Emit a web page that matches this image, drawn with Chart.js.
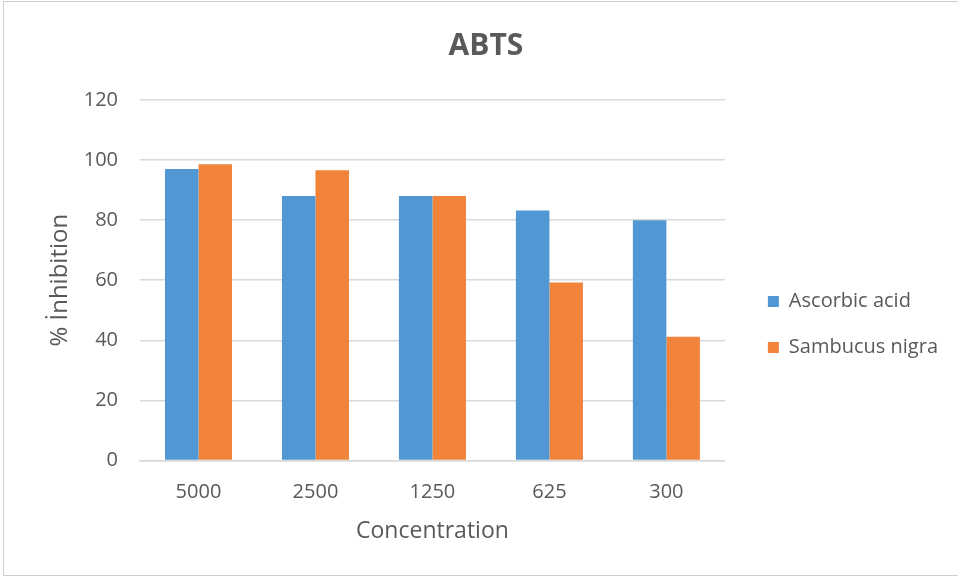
<!DOCTYPE html>
<html>
<head>
<meta charset="utf-8">
<script src="https://cdn.jsdelivr.net/npm/chart.js@4.4.1/dist/chart.umd.min.js"></script>
<style>
  html, body { margin: 0; padding: 0; background: #ffffff; }
  #frame {
    position: absolute; left: 3px; top: 1px;
    width: 962px; height: 575px;
    border: 1px solid #cfcfcf; box-sizing: border-box;
  }
  #wrap { position: absolute; left: 0; top: 0; width: 958px; height: 579px; }
</style>
</head>
<body>
<div id="frame"></div>
<div id="wrap"><canvas id="c" width="958" height="579"></canvas></div>
<script>
// Concentrations tested and % inhibition per sample
const concentrations = ['5000', '2500', '1250', '625', '300'];
const ascorbicAcid = [97, 88, 88, 83.2, 80];
const sambucusNigra = [98.6, 96.6, 88, 59.2, 41.2];
const yTicks = [0, 20, 40, 60, 80, 100, 120];

const textColor = '#595959';
const gridColor = '#d9d9d9';
const font = '"Open Sans", "Noto Sans", sans-serif';

new Chart(document.getElementById('c'), {
  type: 'bar',
  data: {
    labels: concentrations,
    datasets: [
      { label: 'Ascorbic acid', data: ascorbicAcid, backgroundColor: '#5097d3' },
      { label: 'Sambucus nigra', data: sambucusNigra, backgroundColor: '#f1833a' }
    ]
  },
  options: {
    responsive: false,
    animation: false,
    devicePixelRatio: 1,
    layout: { padding: { left: 24, right: 10, top: 0, bottom: 30 } },
    datasets: { bar: { barPercentage: 1.0, categoryPercentage: 0.573 } },
    plugins: {
      title: {
        display: true, text: 'ABTS', color: textColor,
        font: { family: font, size: 30, weight: 'bold' },
        padding: { top: 28, bottom: 36 }
      },
      legend: {
        position: 'right', align: 'center', maxWidth: 216,
        title: { display: true, text: ' ', padding: { top: 44, bottom: 44 }, font: { size: 10 } },
        labels: {
          color: textColor, boxWidth: 11, boxHeight: 11, padding: 26,
          font: { family: font, size: 20 }
        }
      },
      tooltip: { enabled: false }
    },
    scales: {
      x: {
        grid: { display: false, drawTicks: false },
        border: { display: true, color: gridColor, width: 1.5 },
        ticks: { color: textColor, font: { family: font, size: 20 }, padding: 20 },
        title: {
          display: true, text: 'Concentration', color: textColor,
          font: { family: font, size: 23 }, padding: { top: -7, bottom: 4 }
        }
      },
      y: {
        min: 0, max: 120,
        afterBuildTicks: (s) => { s.ticks = yTicks.map(v => ({ value: v })); },
        afterFit: (s) => { s.width = 116; },
        grid: { color: gridColor, lineWidth: 1.5, drawTicks: false },
        border: { display: false },
        ticks: { color: textColor, font: { family: font, size: 20 }, padding: 22 },
        title: {
          display: true, text: '% İnhibition', color: textColor,
          font: { family: font, size: 24 }, padding: { top: 22, bottom: 0 }
        }
      },
      // empty right-hand spacer between the plot and the legend
      gap: {
        position: 'right', type: 'linear', display: true, min: 0, max: 1,
        afterFit: (s) => { s.width = 17; },
        grid: { display: false, drawTicks: false },
        border: { display: false },
        ticks: { display: false }
      }
    }
  }
});
</script>
</body>
</html>
